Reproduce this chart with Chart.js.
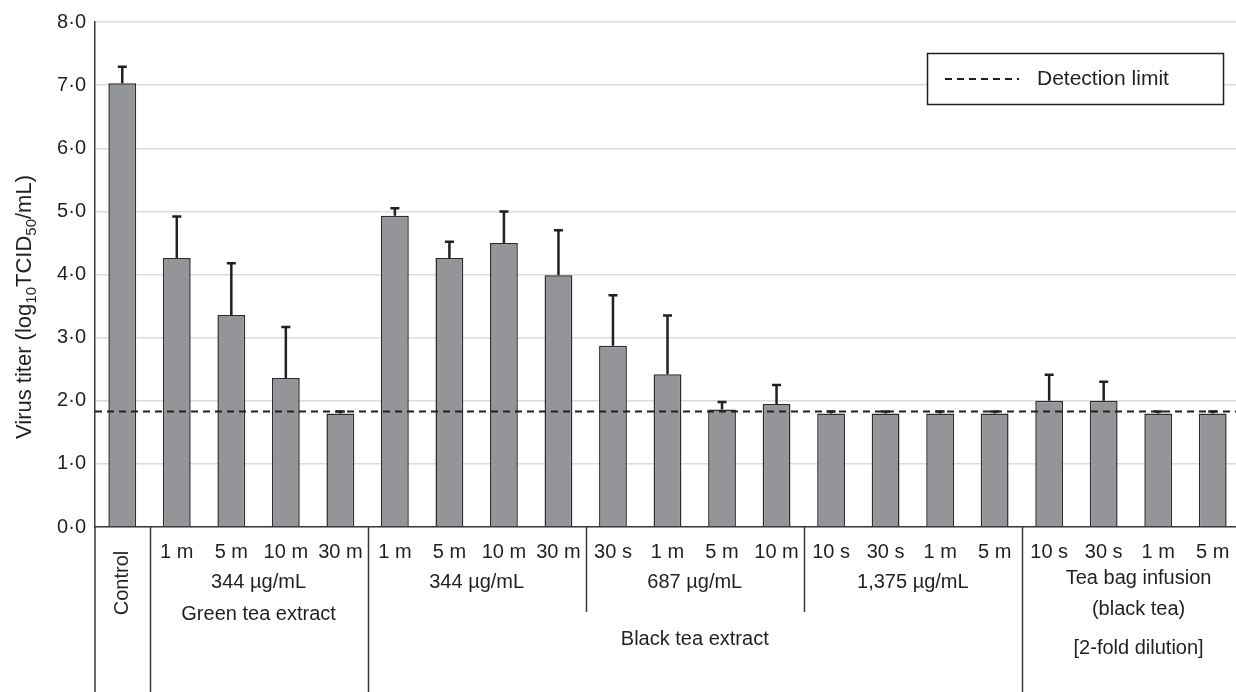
<!DOCTYPE html>
<html>
<head>
<meta charset="utf-8">
<script src="https://cdn.jsdelivr.net/npm/chart.js@4.4.1/dist/chart.umd.min.js"></script>
<style>
  html, body { margin: 0; padding: 0; background: #fff; overflow: hidden; }
  #wrap { position: relative; width: 1240px; height: 692px; }
</style>
</head>
<body>
<div id="wrap"><canvas id="titerChart"></canvas></div>
<script>
// --- data ---
const categories = ['Control', '1 m', '5 m', '10 m', '30 m', '1 m', '5 m', '10 m', '30 m',
    '30 s', '1 m', '5 m', '10 m', '10 s', '30 s', '1 m', '5 m', '10 s', '30 s', '1 m', '5 m'];
const titerMeans = [7.03, 4.26, 3.36, 2.36, 1.80, 4.93, 4.26, 4.50, 3.99,
    2.87, 2.42, 1.86, 1.95, 1.80, 1.80, 1.80, 1.80, 2.00, 2.00, 1.80, 1.80];
const titerErrors = [0.26, 0.66, 0.82, 0.81, 0.03, 0.12, 0.26, 0.50, 0.71,
    0.80, 0.93, 0.12, 0.30, 0.03, 0.03, 0.03, 0.03, 0.41, 0.30, 0.03, 0.03];
const detectionLimit = 1.83;
const yTicks = [0, 1, 2, 3, 4, 5, 6, 7, 8];

// group labels under the axis, with the category index range they span
const concLabels = ['344 µg/mL', '344 µg/mL', '687 µg/mL', '1,375 µg/mL'];
const concSpans = [[1, 4], [5, 8], [9, 12], [13, 16]];
const productLabels = ['Green tea extract', 'Black tea extract'];
const productSpans = [[1, 4], [5, 16]];
const infusionLabels = ['Tea bag infusion', '(black tea)', '[2-fold dilution]'];
const infusionSpan = [17, 20];

const FONT = '"Liberation Sans", Arial, Helvetica, sans-serif';
const INK = '#231f20';

function spanCenter(xs, span) {
    return (xs.getPixelForValue(span[0]) + xs.getPixelForValue(span[1])) / 2;
}
function boundary(xs, i) {
    return (xs.getPixelForValue(i) + xs.getPixelForValue(i + 1)) / 2;
}

// error bars on top of each column
const errorBars = {
    id: 'errorBars',
    afterDatasetsDraw(chart) {
        const meta = chart.getDatasetMeta(1);
        const ys = chart.scales.y;
        const ctx = chart.ctx;
        ctx.save();
        ctx.strokeStyle = INK;
        ctx.lineWidth = 2.5;
        meta.data.forEach((bar, i) => {
            const top = ys.getPixelForValue(titerMeans[i] + titerErrors[i]);
            ctx.beginPath();
            ctx.moveTo(bar.x, bar.y);
            ctx.lineTo(bar.x, top);
            ctx.moveTo(bar.x - 4.5, top);
            ctx.lineTo(bar.x + 4.5, top);
            ctx.stroke();
        });
        ctx.restore();
    }
};

// y title with real subscripts
const yTitle = {
    id: 'yTitle',
    afterDraw(chart) {
        const ctx = chart.ctx;
        const parts = [['Virus titer (log', 0], ['10', 1], ['TCID', 0], ['50', 1], ['/mL)', 0]];
        const big = 'normal 22px ' + FONT, small = 'normal 15px ' + FONT;
        let w = 0;
        parts.forEach(p => { ctx.font = p[1] ? small : big; w += ctx.measureText(p[0]).width; });
        ctx.save();
        ctx.translate(31, 307);
        ctx.rotate(-Math.PI / 2);
        ctx.fillStyle = INK;
        ctx.textBaseline = 'alphabetic';
        let x = -w / 2;
        parts.forEach(p => {
            ctx.font = p[1] ? small : big;
            ctx.fillText(p[0], x, p[1] ? 5 : 0);
            x += ctx.measureText(p[0]).width;
        });
        ctx.restore();
    }
};

// the label table under the x axis
const labelTable = {
    id: 'labelTable',
    afterDraw(chart) {
        const ctx = chart.ctx;
        const xs = chart.scales.x;
        const area = chart.chartArea;
        const bottom = chart.height;
        ctx.save();
        ctx.strokeStyle = '#3a3a3a';
        ctx.lineWidth = 1.5;
        ctx.beginPath();
        ctx.moveTo(area.left, area.bottom);
        ctx.lineTo(area.left, bottom);
        [0, 4, 16].forEach(i => {
            const bx = Math.round(boundary(xs, i)) + 0.5;
            ctx.moveTo(bx, area.bottom);
            ctx.lineTo(bx, bottom);
        });
        [8, 12].forEach(i => {
            const bx = Math.round(boundary(xs, i)) + 0.5;
            ctx.moveTo(bx, area.bottom);
            ctx.lineTo(bx, area.bottom + 85);
        });
        ctx.stroke();

        ctx.fillStyle = INK;
        ctx.textAlign = 'center';
        ctx.textBaseline = 'middle';
        ctx.font = 'normal 20px ' + FONT;
        categories.forEach((c, i) => {
            if (i === 0) return;
            ctx.fillText(c, xs.getPixelForValue(i), area.bottom + 25);
        });
        concLabels.forEach((t, i) => {
            ctx.fillText(t, spanCenter(xs, concSpans[i]), area.bottom + 55);
        });
        const productY = [87, 112];
        productLabels.forEach((t, i) => {
            ctx.fillText(t, spanCenter(xs, productSpans[i]), area.bottom + productY[i]);
        });
        const infusionY = [51, 82, 121];
        const ix = (xs.getPixelForValue(infusionSpan[0]) + area.right) / 2 - 6;
        infusionLabels.forEach((t, i) => {
            ctx.fillText(t, ix, area.bottom + infusionY[i]);
        });

        // rotated "Control"
        ctx.translate(xs.getPixelForValue(0), area.bottom + 56);
        ctx.rotate(-Math.PI / 2);
        ctx.fillText(categories[0], 0, 0);
        ctx.restore();
    }
};

// boxed legend for the detection limit line
const boxLegend = {
    id: 'boxLegend',
    afterDraw(chart) {
        const ctx = chart.ctx;
        const ds = chart.data.datasets[0];
        const left = 927, top = 53, w = 296, h = 51;
        ctx.save();
        ctx.fillStyle = '#fff';
        ctx.fillRect(left, top, w, h);
        ctx.strokeStyle = INK;
        ctx.lineWidth = 1.5;
        ctx.strokeRect(left + 0.5, top + 0.5, w, h);
        ctx.setLineDash(ds.borderDash);
        ctx.lineWidth = ds.borderWidth;
        ctx.strokeStyle = ds.borderColor;
        ctx.beginPath();
        ctx.moveTo(left + 18, top + 26);
        ctx.lineTo(left + 92, top + 26);
        ctx.stroke();
        ctx.setLineDash([]);
        ctx.fillStyle = INK;
        ctx.font = 'normal 21px ' + FONT;
        ctx.textBaseline = 'middle';
        ctx.fillText(ds.label, left + 110, top + 26);
        ctx.restore();
    }
};

const ctx = document.getElementById('titerChart').getContext('2d');
const titerChart = new Chart(ctx, {
    type: 'bar',
    data: {
        labels: categories,
        datasets: [
            {
                type: 'line',
                label: 'Detection limit',
                data: [{ x: 0, y: detectionLimit }, { x: 1, y: detectionLimit }],
                xAxisID: 'x2',
                borderColor: INK,
                borderWidth: 2,
                borderDash: [7, 5],
                pointRadius: 0,
                fill: false,
                order: 0
            },
            {
                label: 'Virus titer',
                data: titerMeans,
                backgroundColor: '#939598',
                borderColor: '#2b2b2b',
                borderWidth: 1.5,
                grouped: false,
                categoryPercentage: 1,
                barPercentage: 0.51,
                order: 1
            }
        ]
    },
    options: {
        responsive: true,
        maintainAspectRatio: false,
        animation: false,
        devicePixelRatio: 1,
        layout: { padding: { top: 22, right: 0, bottom: 165, left: 0 } },
        plugins: {
            legend: { display: false },
            tooltip: { enabled: false }
        },
        scales: {
            x: {
                type: 'category',
                offset: true,
                grid: { display: false, drawTicks: false },
                ticks: { display: false },
                border: { display: true, color: '#3a3a3a', width: 1.5 },
                afterFit: (s) => { s.height = 0; }
            },
            x2: {
                type: 'linear',
                min: 0,
                max: 1,
                offset: false,
                display: false
            },
            y: {
                min: 0,
                max: 8,
                afterBuildTicks: (s) => { s.ticks = yTicks.map(v => ({ value: v })); },
                afterFit: (s) => { s.width = 95; },
                ticks: {
                    color: INK,
                    padding: 9,
                    font: { family: FONT, size: 20 },
                    callback: (v) => Number(v).toFixed(1).replace('.', '·')
                },
                grid: { color: '#dcdcdc', lineWidth: 1.5, drawTicks: false },
                border: { display: true, color: '#3a3a3a', width: 1.5 }
            }
        }
    },
    plugins: [errorBars, yTitle, labelTable, boxLegend]
});
</script>
</body>
</html>
